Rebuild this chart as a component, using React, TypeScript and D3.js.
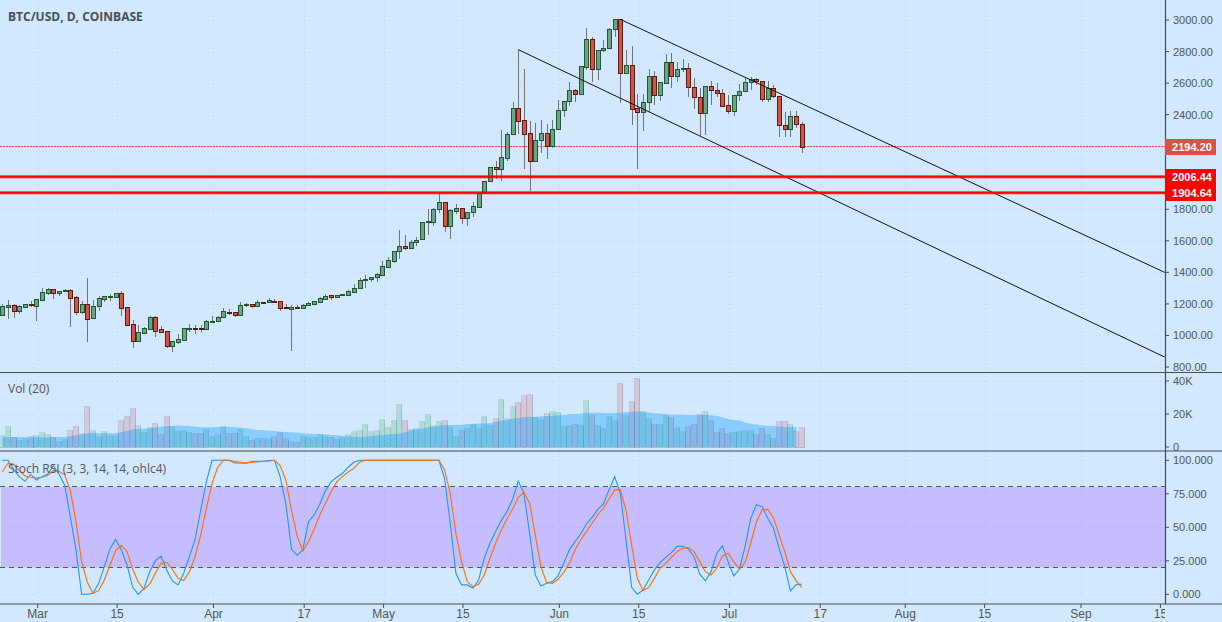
import React from "react";
import * as d3 from "d3";

const firstDay = -6; // days relative to 1 March, first candle on screen

const opens = [1132,1183,1191,1157,1183,1197,1189,1227,1271,1292,1271,1280,1286,1242,1151,1197,1113,1189,1233,1246,1246,1267,1178,1070,967,1018,1043,1115,1039,1026,935,961,973,1043,1045,1045,1043,1087,1094,1115,1151,1147,1132,1191,1197,1185,1210,1210,1221,1216,1178,1170,1180,1176,1191,1202,1214,1233,1254,1246,1254,1259,1278,1299,1350,1356,1369,1385,1436,1474,1533,1565,1552,1590,1614,1717,1721,1800,1844,1696,1791,1806,1747,1781,1817,1906,1977,2066,2058,2127,2275,2440,2364,2282,2104,2241,2282,2199,2307,2427,2484,2554,2529,2704,2877,2691,2808,2820,2941,3004,2662,2713,2440,2415,2482,2643,2522,2603,2732,2647,2687,2694,2577,2510,2413,2580,2558,2535,2459,2425,2522,2548,2605,2624,2611,2501,2567,2516,2336,2311,2389,2343];
const highs = [1199,1225,1197,1195,1202,1216,1229,1301,1299,1297,1282,1292,1295,1250,1218,1364,1225,1250,1250,1263,1267,1280,1178,1096,1066,1056,1123,1123,1060,1030,963,1009,1045,1073,1064,1066,1098,1123,1123,1174,1168,1147,1212,1206,1202,1225,1214,1237,1229,1221,1199,1191,1191,1199,1212,1216,1244,1263,1254,1254,1263,1288,1326,1364,1383,1371,1396,1472,1495,1533,1669,1637,1605,1622,1717,1802,1808,1897,1844,1800,1833,1806,1781,1844,1901,1977,2066,2108,2301,2290,2478,2812,2687,2358,2347,2366,2341,2366,2493,2484,2605,2560,2706,2947,2890,2808,2873,2949,3004,3004,2810,2835,2531,2531,2687,2677,2605,2784,2789,2732,2753,2725,2630,2567,2580,2611,2601,2560,2522,2522,2592,2636,2636,2630,2611,2611,2586,2516,2419,2425,2425,2356];
const lows = [1130,1104,1111,1136,1180,1180,1092,1225,1257,1231,1250,1276,1054,1130,1136,958,1113,1155,1214,1218,1246,1125,1068,921,967,1018,1041,990,1016,923,895,948,965,1022,1009,1024,1041,1077,1085,1111,1130,1119,1132,1183,1174,1183,1204,1204,1210,1157,1166,904,1172,1174,1187,1193,1212,1231,1225,1240,1252,1257,1276,1297,1303,1341,1341,1377,1428,1461,1485,1542,1550,1569,1614,1637,1694,1779,1656,1612,1770,1707,1694,1753,1808,1897,1975,1994,1981,2108,2273,2277,2058,1916,2104,2155,2121,2187,2307,2387,2455,2480,2527,2683,2609,2620,2799,2818,2894,2476,2660,2334,2058,2298,2419,2461,2489,2598,2571,2609,2670,2514,2436,2265,2271,2461,2510,2457,2404,2391,2489,2548,2556,2588,2480,2480,2503,2260,2260,2260,2313,2159];
const closes = [1185,1191,1157,1185,1197,1195,1229,1273,1292,1271,1280,1286,1240,1151,1197,1106,1189,1235,1248,1250,1267,1176,1068,967,1020,1045,1115,1030,1024,935,963,978,1045,1045,1043,1043,1090,1094,1115,1153,1145,1132,1191,1197,1185,1210,1208,1223,1216,1176,1172,1178,1178,1191,1204,1216,1235,1252,1246,1254,1261,1280,1299,1350,1356,1369,1388,1438,1476,1533,1565,1552,1590,1607,1717,1724,1800,1844,1696,1793,1806,1747,1781,1819,1901,1977,2066,2058,2129,2275,2440,2358,2275,2104,2237,2282,2199,2307,2427,2484,2554,2529,2706,2877,2691,2808,2820,2941,3004,2662,2713,2438,2415,2482,2643,2522,2605,2732,2647,2687,2694,2577,2510,2413,2580,2558,2535,2457,2425,2522,2548,2605,2624,2611,2501,2567,2516,2336,2311,2389,2343,2194.2];

const volumes = [7.3,12.5,5.9,4.2,5.5,6.7,7.5,8.9,7.7,5.9,3.4,4.6,10.1,12.5,8.3,24.6,10.1,6.7,9.5,7.3,7.3,16.2,18.6,23.4,13.1,8.9,11.9,14.3,7.7,18.6,12.5,9.5,10.1,8.9,8.3,8.3,10.7,6.5,7.7,12.5,8.3,8.3,10.7,6.5,4.0,5.3,5.3,5.3,6.5,8.9,5.3,3.4,2.8,6.5,5.9,5.9,7.7,6.5,5.9,4.6,5.9,7.7,9.5,10.1,13.7,9.5,10.1,16.8,11.9,16.2,25.9,16.2,10.7,11.3,15.6,19.8,13.1,15.6,16.2,11.9,6.5,10.1,11.3,13.7,11.3,18.6,13.1,17.4,28.9,17.4,24.8,27.1,31.3,31.9,18.0,16.8,20.4,21.6,21.0,12.5,13.1,13.7,13.1,28.3,19.2,13.1,11.3,18.6,16.2,38.6,19.2,27.7,41.6,21.6,17.4,13.7,13.7,19.2,18.0,11.9,9.5,12.5,13.7,19.8,21.6,16.2,8.9,11.3,8.3,8.9,9.5,10.1,10.1,7.7,11.3,7.7,5.3,15.6,15.6,13.7,9.5,11.9];

const volumeAverage = [6.1,6.1,6.1,6.1,5.9,5.9,5.9,5.9,5.9,6.1,6.1,6.1,6.7,7.1,7.7,8.3,8.5,8.3,8.3,8.3,8.3,9.1,9.9,10.7,10.9,11.1,11.5,11.9,12.3,12.7,12.9,13.1,12.9,12.7,12.3,11.9,11.9,11.9,12.1,12.3,12.3,12.1,11.7,11.3,10.7,10.3,10.1,9.9,9.7,9.3,9.1,8.9,8.7,8.3,8.1,7.9,7.9,7.7,7.3,7.1,6.7,6.5,6.1,6.1,6.3,6.7,7.1,7.3,7.7,7.9,8.1,9.1,10.1,10.7,11.1,11.9,12.3,12.9,13.3,13.3,13.3,13.5,13.9,14.1,14.3,14.3,14.5,15.1,16.0,16.4,17.2,17.6,18.2,18.2,18.2,18.6,18.8,19.0,19.2,19.4,19.8,20.0,20.2,20.6,20.8,20.8,20.6,20.4,20.6,20.8,21.0,21.4,21.6,21.2,20.8,20.4,20.2,19.8,19.6,19.6,19.6,19.4,19.4,19.4,19.4,19.2,18.8,18.0,17.0,16.4,16.0,14.9,14.1,13.7,13.1,12.9,12.7,12.3,12.1,12.1,12.1];

const stochK = [100,100,93.3,87.8,84.3,89.6,85.3,87.8,89.8,95.8,89.8,81.6,58,33.1,0,0,0.7,8.2,20.6,34.1,41,33.1,21.9,5.2,0,4.5,16.9,25.1,28.4,18.2,10,7,15.7,28.1,41,62.9,84.1,100,100,100,100,98,98,97.8,99,99.3,99.3,99.8,100,87.8,67.9,33.6,29.1,33.1,54.2,59.2,67.2,77.4,84.1,87.3,90.3,94.8,98.5,100,100,100,100,100,100,100,100,100,100,100,100,100,100,100,86.6,53,15.7,7,7,4.5,10.7,26.9,38.1,46.8,55,61.7,70.9,84.3,75.4,45.5,14.4,6.2,8.2,9.5,13.7,23.1,33.1,39.3,45,52.5,57.2,63.4,67.2,77.9,87.8,75.4,40.5,5.2,0,3.2,10.7,18.2,23.6,27.6,31.1,35.8,35.8,33.8,28.1,15.2,10,16.9,30.6,36.1,24.4,13.7,18.7,35.6,56.7,66.9,65.4,56.7,49.3,34.3,20.6,2.5,7.2,7.5];

const stochD = [91.5,97.8,97.3,92.3,88.3,87.3,86.8,87.3,88.6,92.3,91.8,89.1,77.4,54.2,24.4,9,0.7,2.7,10.7,21.9,32.6,36.6,31.8,18.7,9,3.7,7.7,15.7,23.1,23.9,18.7,11.9,10.2,16.9,28.1,44.3,64.2,82.8,94.8,100,100,99,98.5,98,98.5,98.8,99.3,99.5,100,96,85.3,62.9,43.5,32.3,39.3,48.5,59.2,67.9,76.6,84.1,87.8,91.3,94,98.5,100,100,100,100,100,100,100,100,100,100,100,100,100,100,92.8,75.4,45.5,24.4,9.5,5.7,7.5,14.4,26.9,38.1,48,56.2,63.4,72.4,76.1,67.9,44.3,20.6,8.7,8.2,11.2,16.2,23.1,33.1,40.5,46.8,53,59.2,64.2,70.9,77.9,77.9,62.9,36.8,11.9,2.7,5,11.9,19.4,23.1,27.6,31.8,34.3,35.1,31.8,24.4,16.9,14.4,19.4,28.6,30.6,24.4,18.7,23.6,38.1,54.2,62.9,63.4,57.2,44.3,31.8,16.9,10,5.2];

const dateTickDays = [0,14,31,47,61,75,92,106,122,138,153,167,184,198];
const dateTickLabels = ["Mar","15","Apr","17","May","15","Jun","15","Jul","17","Aug","15","Sep","15"];
const priceTicks = [3000,2800,2600,2400,2200,2000,1800,1600,1400,1200,1000,800];
const volumeTicks = [0,20,40];
const volumeTickLabels = ["0","20K","40K"];
const stochTicks = [100,75,50,25,0];

const upperChannelDays = [103,199];
const upperChannelPrices = [3004,1400];
const lowerChannelDays = [85,199];
const lowerChannelPrices = [2812,863];
const levelPrices = [2006.44,1904.64];
const lastPrice = 2194.2;

const BG = "#d1e8ff";
const AXIS = "#4a4a4a";
const TXT = "#555555";
const GRID = "rgba(170,190,225,0.45)";
const UP_FILL = "#6ba583";
const UP_LINE = "#225437";
const DOWN_FILL = "#d75442";
const DOWN_LINE = "#5b1a13";
const WICK = "#737375";
const AXIS_X = 1165;

const tickX = d3.scaleLinear().domain([0, 198]).range([37.7, 1160.4]);
const candleX = (d: number) => Math.round(tickX(d) - 1.4);
const yPrice = d3.scaleLinear().domain([800, 3000]).range([367, 20]);
const yVol = d3.scaleLinear().domain([0, 40]).range([447, 381]);
const yStoch = d3.scaleLinear().domain([0, 100]).range([594.3, 460.3]);

const chartFont = "'Liberation Sans', Arial, sans-serif";
const labelFont = "'Open Sans', sans-serif";

export default function App() {
  const days = closes.map((_, i) => firstDay + i);
  const avgArea = d3
    .area<number>()
    .x((_, i) => candleX(firstDay + i) + 0.5)
    .y0(yVol(0))
    .y1((v) => yVol(v));
  const stochLine = d3
    .line<number>()
    .x((_, i) => tickX(firstDay + i) - 1.4)
    .y((v) => yStoch(v));
  const channel = d3
    .line<number>()
    .x((d) => tickX(d) - 1.4);
  const upperPath = channel.y((_, i) => yPrice(upperChannelPrices[i]))(upperChannelDays);
  const lowerPath = channel.y((_, i) => yPrice(lowerChannelPrices[i]))(lowerChannelDays);

  const hGrid = [
    ...priceTicks.map((p) => yPrice(p)),
    ...volumeTicks.slice(1).map((v) => yVol(v)),
    ...stochTicks.map((v) => yStoch(v)),
  ];

  const priceText = (v: number) => v.toFixed(2);
  const lastY = Math.floor(yPrice(lastPrice)) - 0.5;

  return (
    <svg
      width={1222}
      height={622}
      style={{ position: "fixed", left: 0, top: 0, display: "block", background: BG }}
    >
      <defs>
        <clipPath id="plot"><rect x={0} y={0} width={AXIS_X} height={622} /></clipPath>
        <clipPath id="pricePane"><rect x={0} y={0} width={AXIS_X} height={372} /></clipPath>
      </defs>
      <rect x={0} y={0} width={1222} height={622} fill={BG} />

      {/* grid */}
      <g stroke={GRID} strokeWidth={1} strokeDasharray="1 3" shapeRendering="crispEdges">
        {hGrid.map((y, i) => (
          <line key={i} x1={0} x2={AXIS_X} y1={Math.round(y) + 0.5} y2={Math.round(y) + 0.5} />
        ))}
        {dateTickDays.map((d) => (
          <line key={d} x1={Math.round(tickX(d)) + 0.5} x2={Math.round(tickX(d)) + 0.5} y1={0} y2={604} />
        ))}
      </g>

      {/* stoch band */}
      <rect
        x={1}
        y={yStoch(80)}
        width={AXIS_X - 1}
        height={yStoch(20) - yStoch(80)}
        fill="rgba(153,21,255,0.2)"
      />
      <g stroke="#555" strokeWidth={1} strokeDasharray="5 4" shapeRendering="crispEdges">
        <line x1={0} x2={AXIS_X} y1={486.5} y2={486.5} />
        <line x1={0} x2={AXIS_X} y1={567.5} y2={567.5} />
      </g>

      {/* last price line */}
      <line
        x1={0}
        x2={AXIS_X}
        y1={lastY}
        y2={lastY}
        stroke="#ff3a1f"
        strokeWidth={1}
        strokeDasharray="2 1"
        shapeRendering="crispEdges"
      />

      {/* candles */}
      <g clipPath="url(#pricePane)">
        {days.map((d, i) => {
          const up = closes[i] >= opens[i];
          const x = candleX(d);
          const top = Math.round(yPrice(Math.max(opens[i], closes[i])));
          const bottom = Math.round(yPrice(Math.min(opens[i], closes[i])));
          const h = bottom - top;
          return (
            <g key={d} shapeRendering="crispEdges">
              <line
                x1={x + 0.5}
                x2={x + 0.5}
                y1={yPrice(highs[i])}
                y2={yPrice(lows[i])}
                stroke={WICK}
                strokeWidth={1}
              />
              <rect
                x={x - 1.5}
                y={top + 0.5}
                width={4}
                height={Math.max(h, 1)}
                fill={up ? UP_FILL : DOWN_FILL}
                stroke={up ? UP_LINE : DOWN_LINE}
                strokeWidth={1}
              />
            </g>
          );
        })}
        <path d={upperPath || ""} fill="none" stroke="#111" strokeWidth={1} />
        <path d={lowerPath || ""} fill="none" stroke="#111" strokeWidth={1} />
        {levelPrices.map((p) => (
          <g key={p}>
            <line x1={0} x2={AXIS_X} y1={yPrice(p)} y2={yPrice(p)} stroke="rgba(255,0,0,0.45)" strokeWidth={3.4} />
            <line x1={0} x2={AXIS_X} y1={yPrice(p)} y2={yPrice(p)} stroke="#ff0000" strokeWidth={2} />
          </g>
        ))}
      </g>

      {/* volume */}
      <g shapeRendering="crispEdges">
        {days.map((d, i) => {
          const up = closes[i] >= opens[i];
          const x = candleX(d);
          const top = Math.round(yVol(volumes[i]));
          return (
            <rect
              key={d}
              x={x - 2.5}
              y={top + 0.5}
              width={5}
              height={Math.round(yVol(0)) - top}
              fill={up ? "rgba(100,190,130,0.3)" : "rgba(215,84,66,0.2)"}
              stroke={up ? "rgba(34,110,70,0.16)" : "rgba(91,26,60,0.16)"}
              strokeWidth={1}
            />
          );
        })}
      </g>
      <path d={avgArea(volumeAverage) || ""} fill="rgba(0,150,255,0.34)" />

      {/* stoch lines */}
      <path d={stochLine(stochK) || ""} fill="none" stroke="#2196f3" strokeWidth={1.1} />
      <path d={stochLine(stochD) || ""} fill="none" stroke="#ff6d00" strokeWidth={1.1} />

      {/* frame */}
      <g stroke={AXIS} strokeWidth={1.2}>
        <line x1={0} x2={1222} y1={372.5} y2={372.5} />
        <line x1={0} x2={1222} y1={451} y2={451} />
        <line x1={0} x2={1222} y1={604} y2={604} />
        <line x1={AXIS_X + 0.5} x2={AXIS_X + 0.5} y1={0} y2={604} />
      </g>

      {/* right axis */}
      <g fontFamily={chartFont} fontSize={11} fill={TXT}>
        {priceTicks.map((p) => (
          <g key={p}>
            <line x1={AXIS_X} x2={AXIS_X + 4} y1={yPrice(p)} y2={yPrice(p)} stroke={AXIS} />
            <text x={AXIS_X + 8} y={yPrice(p) + 4}>{priceText(p)}</text>
          </g>
        ))}
        {volumeTicks.map((v, i) => (
          <g key={v}>
            <line x1={AXIS_X} x2={AXIS_X + 4} y1={yVol(v)} y2={yVol(v)} stroke={AXIS} />
            <text x={AXIS_X + 8} y={yVol(v) + 4}>{volumeTickLabels[i]}</text>
          </g>
        ))}
        {stochTicks.map((v) => (
          <g key={v}>
            <line x1={AXIS_X} x2={AXIS_X + 4} y1={yStoch(v)} y2={yStoch(v)} stroke={AXIS} />
            <text x={AXIS_X + 8} y={yStoch(v) + 4}>{v.toFixed(3)}</text>
          </g>
        ))}
      </g>

      {/* price tags */}
      <g fontFamily={chartFont} fontSize={11} fontWeight="bold" fill="#fff" textAnchor="middle">
        <rect x={AXIS_X} y={139} width={51} height={16} fill="#d75442" />
        <text x={AXIS_X + 27} y={151}>{priceText(lastPrice)}</text>
        <rect x={AXIS_X} y={169} width={51} height={32} fill="#ff0000" />
        {levelPrices.map((p) => (
          <text key={p} x={AXIS_X + 27} y={yPrice(p) + 4}>{priceText(p)}</text>
        ))}
      </g>

      {/* date axis */}
      <g clipPath="url(#plot)" fontFamily={chartFont} fontSize={12} fill={TXT} textAnchor="middle">
        {dateTickDays.map((d, i) => (
          <g key={d}>
            <line x1={tickX(d)} x2={tickX(d)} y1={604} y2={608} stroke={AXIS} />
            <text x={tickX(d)} y={618}>{dateTickLabels[i]}</text>
          </g>
        ))}
      </g>

      {/* legends */}
      <g fontFamily={labelFont} fill={TXT}>
        <text x={8} y={21} fontSize={12} fontWeight="bold" fill="#4a4e54">BTC/USD, D, COINBASE</text>
        <text x={8} y={393} fontSize={12}>Vol (20)</text>
        <text x={8} y={473} fontSize={12}>Stoch RSI (3, 3, 14, 14, ohlc4)</text>
      </g>
    </svg>
  );
}
